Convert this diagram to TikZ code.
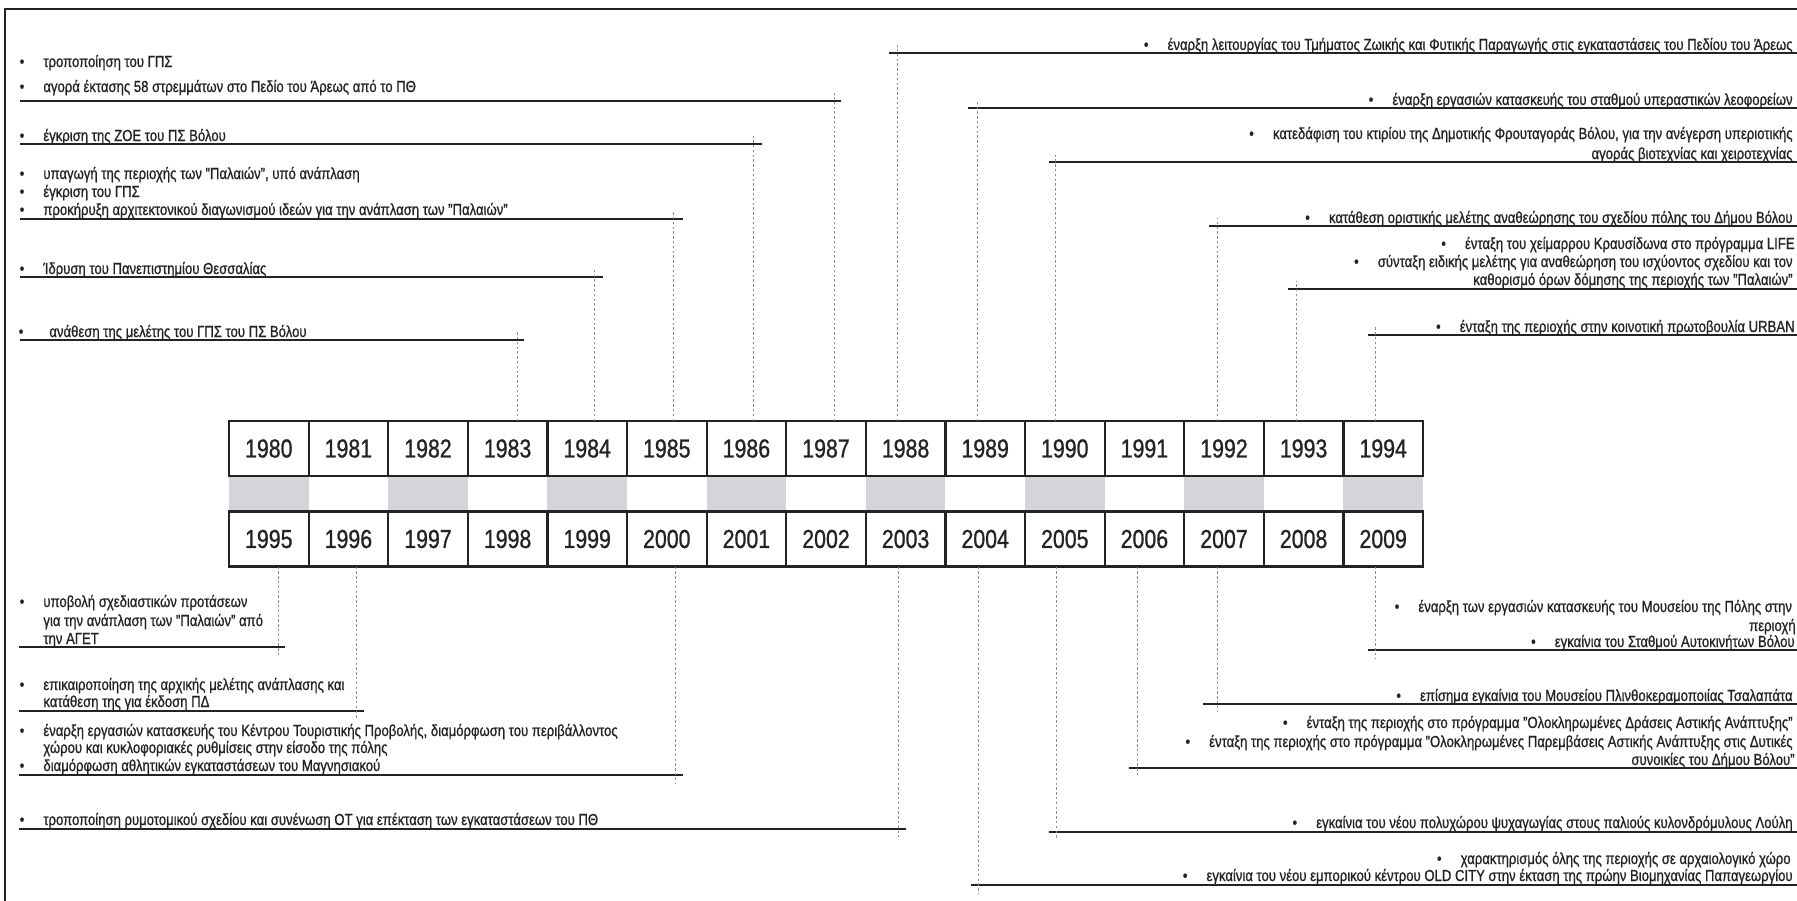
\documentclass[tikz,border=0pt]{standalone}
\usepackage{fontspec}
\setmainfont{Liberation Sans}[FakeStretch=0.82,FakeBold=0.9]
\newcommand\evfont{\fontsize{8}{9.5}\selectfont}
\newcommand\yrfont{\fontsize{13}{15}\selectfont}
\definecolor{bandgray}{RGB}{214,212,219}
\definecolor{ink}{RGB}{35,35,35}
\newcommand\topev[5]{%
  \coordinate (a#1) at (#4,#3); \coordinate (b#1) at (#5,#3);
  \coordinate (v#1) at (#2,{#3-8});
  \draw[uline] (a#1) -- (b#1);
  \draw[vline] (y#1.north -| v#1) -- (v#1);}
\newcommand\botev[5]{%
  \coordinate (a#1) at (#4,#3); \coordinate (b#1) at (#5,#3);
  \coordinate (v#1) at (#2,{#3+8});
  \draw[uline] (a#1) -- (b#1);
  \draw[vline] (y#1.south -| v#1) -- (v#1);}
\newcommand\bul[1]{\node[bulnode] (#1b) at ([xshift=-10.5pt]#1.base west) {•};}
\begin{document}
\begin{tikzpicture}[x=0.5pt,y=-0.5pt,
  yearbox/.style={draw=ink,line width=1.1pt,minimum width=39.8pt,minimum height=27.5pt,inner sep=0pt,outer sep=0pt,font=\yrfont,text=ink},
  evtext/.style={inner sep=0pt,font=\evfont,text=ink},
  bulnode/.style={inner sep=0pt,font=\evfont,text=ink,anchor=base},
  uline/.style={draw=ink,line width=0.9pt},
  vline/.style={draw=black!45,line width=0.45pt,dash pattern=on 1.2pt off 1.2pt},
  frame/.style={draw=ink,line width=1.1pt}]
\useasboundingbox (0,0) rectangle (1797,900);
\draw[frame] (5,910) -- (5,9) -- (1810,9);
% timeline grid
\foreach \i in {0,...,14}{
  \pgfmathtruncatemacro\ya{1980+\i}
  \pgfmathtruncatemacro\yb{1995+\i}
  \pgfmathtruncatemacro\ev{mod(\i,2)}
  \ifnum\ev=0 \fill[bandgray] ({229+79.6*\i},476) rectangle ({229+79.6*(\i+1)},512); \fi
  \node[yearbox] (y\ya) at ({229+79.6*(\i+0.5)},448.5) {\ya};
  \node[yearbox] (y\yb) at ({229+79.6*(\i+0.5)},539) {\yb};
}
% ---------- top left events
\node[evtext,anchor=base west] (t1) at (43,67) {τροποποίηση του ΓΠΣ}; \bul{t1}
\node[evtext,anchor=base west] (t2) at (43,92) {αγορά έκτασης 58 στρεμμάτων στο Πεδίο του Άρεως από το ΠΘ}; \bul{t2}
\topev{1987}{834}{101}{20}{841}
\node[evtext,anchor=base west] (t3) at (43,141) {έγκριση της ΖΟΕ του ΠΣ Βόλου}; \bul{t3}
\topev{1986}{753}{144}{20}{762}
\node[evtext,anchor=base west] (t4) at (43,179) {υπαγωγή της περιοχής των "Παλαιών", υπό ανάπλαση}; \bul{t4}
\node[evtext,anchor=base west] (t5) at (43,197) {έγκριση του ΓΠΣ}; \bul{t5}
\node[evtext,anchor=base west] (t6) at (43,215) {προκήρυξη αρχιτεκτονικού διαγωνισμού ιδεών για την ανάπλαση των "Παλαιών"}; \bul{t6}
\topev{1985}{673}{219}{20}{683}
\node[evtext,anchor=base west] (t7) at (43,274) {Ίδρυση του Πανεπιστημίου Θεσσαλίας}; \bul{t7}
\topev{1984}{594}{277}{20}{603}
\node[evtext,anchor=base west] (t8) at (49,337) {ανάθεση της μελέτης του ΓΠΣ του ΠΣ Βόλου}; \node[bulnode] (t8b) at (21,337) {•};
\topev{1983}{517}{340}{20}{524}
% ---------- top right events
\node[evtext,anchor=base east] (t9) at (1793,50) {έναρξη λειτουργίας του Τμήματος Ζωικής και Φυτικής Παραγωγής στις εγκαταστάσεις του Πεδίου του Άρεως}; \bul{t9}
\topev{1988}{897}{53}{889}{1810}
\node[evtext,anchor=base east] (t10) at (1793,105) {έναρξη εργασιών κατασκευής του σταθμού υπεραστικών λεοφορείων}; \bul{t10}
\topev{1989}{977}{108}{968}{1810}
\node[evtext,anchor=base east] (t11) at (1793,139) {κατεδάφιση του κτιρίου της Δημοτικής Φρουταγοράς Βόλου, για την ανέγερση υπεριοτικής}; \bul{t11}
\node[evtext,anchor=base east] (t12) at (1793,159) {αγοράς βιοτεχνίας και χειροτεχνίας};
\topev{1990}{1055}{162}{1049}{1810}
\node[evtext,anchor=base east] (t13) at (1793,223) {κατάθεση οριστικής μελέτης αναθεώρησης του σχεδίου πόλης του Δήμου Βόλου}; \bul{t13}
\topev{1992}{1217}{226}{1209}{1810}
\node[evtext,anchor=base east] (t14) at (1795,249) {ένταξη του χείμαρρου Κραυσίδωνα στο πρόγραμμα LIFE}; \bul{t14}
\node[evtext,anchor=base east] (t15) at (1793,267) {σύνταξη ειδικής μελέτης για αναθεώρηση του ισχύοντος σχεδίου και τον}; \bul{t15}
\node[evtext,anchor=base east] (t16) at (1793,285) {καθορισμό όρων δόμησης της περιοχής των "Παλαιών"};
\topev{1993}{1296}{289}{1288}{1810}
\node[evtext,anchor=base east] (t17) at (1795,332) {ένταξη της περιοχής στην κοινοτική πρωτοβουλία URBAN}; \bul{t17}
\topev{1994}{1375}{335}{1368}{1810}
% ---------- bottom left events
\node[evtext,anchor=base west] (t18) at (43,607) {υποβολή σχεδιαστικών προτάσεων}; \bul{t18}
\node[evtext,anchor=base west] (t19) at (43,626) {για την ανάπλαση των "Παλαιών" από};
\node[evtext,anchor=base west] (t20) at (43,644) {την ΑΓΕΤ};
\botev{1995}{278}{647}{19}{285}
\node[evtext,anchor=base west] (t21) at (43,690) {επικαιροποίηση της αρχικής μελέτης ανάπλασης και}; \bul{t21}
\node[evtext,anchor=base west] (t22) at (43,707) {κατάθεση της για έκδοση ΠΔ};
\botev{1996}{356}{711}{19}{364}
\node[evtext,anchor=base west] (t23) at (43,736) {έναρξη εργασιών κατασκευής του Κέντρου Τουριστικής Προβολής, διαμόρφωση του περιβάλλοντος}; \bul{t23}
\node[evtext,anchor=base west] (t24) at (43,753) {χώρου και κυκλοφοριακές ρυθμίσεις στην είσοδο της πόλης};
\node[evtext,anchor=base west] (t25) at (43,771) {διαμόρφωση αθλητικών εγκαταστάσεων του Μαγνησιακού}; \bul{t25}
\botev{2000}{675}{775}{19}{683}
\node[evtext,anchor=base west] (t26) at (43,825) {τροποποίηση ρυμοτομικού σχεδίου και συνένωση ΟΤ για επέκταση των εγκαταστάσεων του ΠΘ}; \bul{t26}
\botev{2003}{898}{829}{19}{906}
% ---------- bottom right events
\node[evtext,anchor=base west] (t27) at (1418,612) {έναρξη των εργασιών κατασκευής του Μουσείου της Πόλης στην}; \bul{t27}
\node[evtext,anchor=base east] (t28) at (1796,631) {περιοχή};
\node[evtext,anchor=base east] (t29) at (1795,647) {εγκαίνια του Σταθμού Αυτοκινήτων Βόλου}; \bul{t29}
\botev{2009}{1375}{650}{1368}{1810}
\node[evtext,anchor=base east] (t30) at (1793,701) {επίσημα εγκαίνια του Μουσείου Πλινθοκεραμοποιίας Τσαλαπάτα}; \bul{t30}
\botev{2007}{1217}{704}{1203}{1810}
\node[evtext,anchor=base east] (t31) at (1793,728) {ένταξη της περιοχής στο πρόγραμμα "Ολοκληρωμένες Δράσεις Αστικής Ανάπτυξης"}; \bul{t31}
\node[evtext,anchor=base east] (t32) at (1793,747) {ένταξη της περιοχής στο πρόγραμμα "Ολοκληρωμένες Παρεμβάσεις Αστικής Ανάπτυξης στις Δυτικές}; \bul{t32}
\node[evtext,anchor=base east] (t33) at (1795,765) {συνοικίες του Δήμου Βόλου"};
\botev{2006}{1137}{768}{1129}{1810}
\node[evtext,anchor=base east] (t34) at (1793,828) {εγκαίνια του νέου πολυχώρου ψυχαγωγίας στους παλιούς κυλονδρόμυλους Λούλη}; \bul{t34}
\botev{2005}{1056}{832}{1049}{1810}
\node[evtext,anchor=base east] (t35) at (1791,864) {χαρακτηρισμός όλης της περιοχής σε αρχαιολογικό χώρο}; \bul{t35}
\node[evtext,anchor=base east] (t36) at (1793,881) {εγκαίνια του νέου εμπορικού κέντρου OLD CITY στην έκταση της πρώην Βιομηχανίας Παπαγεωργίου}; \bul{t36}
\botev{2004}{978}{885}{971}{1810}
\end{tikzpicture}
\end{document}
